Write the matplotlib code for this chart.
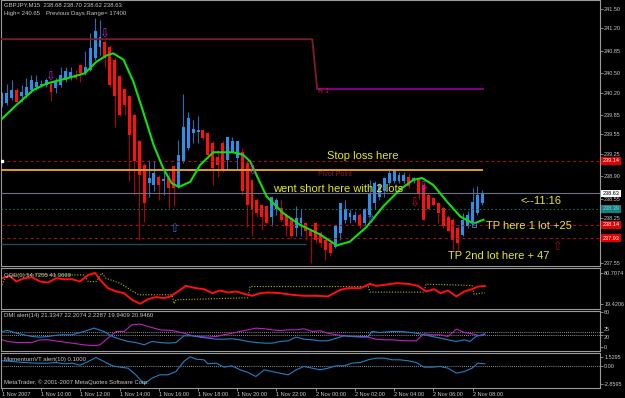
import matplotlib
matplotlib.use("Agg")
import matplotlib.pyplot as plt
import matplotlib.transforms as mtransforms
import numpy as np

W, H = 625, 398
BG = "black"
FG = "#c8c8c8"
FRAME = "#9a9a9a"
YELLOW = "#e6e62a"

# GBPJPY M15, one bar every 15 minutes starting 1 Nov 2007 08:00
opens = [240.01, 240.03, 240.11, 240.24, 240.14, 240.16, 240.24, 240.29, 240.32, 240.32,
         240.34, 240.27, 240.32, 240.40, 240.42, 240.47, 240.63, 240.50, 240.55, 240.73,
         240.91, 240.99, 240.91, 240.71, 240.45, 240.26, 240.14, 239.85, 239.44, 239.07,
         238.79, 238.76, 238.89, 238.83, 238.87, 239.05, 238.74, 239.13, 239.33, 239.57,
         239.59, 239.62, 239.57, 239.41, 239.20, 239.41, 239.15, 239.28, 239.18, 239.28,
         239.10, 238.84, 238.53, 238.45, 238.43, 238.27, 238.38, 238.40, 238.30, 238.25,
         238.09, 238.17, 238.17, 238.04, 238.17, 238.01, 237.91, 237.86, 237.80, 238.01,
         238.22, 238.27, 238.22, 238.30, 238.17, 238.30, 238.48, 238.58, 238.66, 238.79,
         238.82, 238.82, 238.82, 238.89, 238.82, 238.87, 238.76, 238.61, 238.56, 238.48,
         238.40, 238.27, 238.22, 238.09, 237.99, 238.12, 238.17, 238.32, 238.48]
highs = [240.21, 240.34, 240.40, 240.27, 240.32, 240.42, 240.47, 240.48, 240.40, 240.42,
         240.37, 240.42, 240.59, 240.60, 240.60, 240.55, 240.64, 240.84, 241.12, 241.36,
         241.33, 241.02, 240.94, 240.76, 240.47, 240.26, 240.16, 239.88, 239.46, 239.10,
         239.15, 239.13, 238.92, 239.00, 238.97, 239.07, 239.46, 240.17, 239.90, 239.77,
         239.83, 239.64, 239.59, 239.44, 239.31, 239.44, 239.51, 239.51, 239.44, 239.33,
         239.15, 238.86, 238.56, 238.46, 238.45, 238.58, 238.56, 238.53, 238.32, 238.27,
         238.43, 238.38, 238.19, 238.06, 238.19, 238.04, 237.94, 237.88, 238.14, 238.48,
         238.53, 238.38, 238.35, 238.32, 238.40, 238.84, 238.82, 238.79, 238.89, 239.00,
         239.00, 238.97, 238.97, 238.94, 238.89, 238.89, 238.79, 238.63, 238.58, 238.50,
         238.43, 238.30, 238.24, 238.12, 238.32, 238.35, 238.71, 238.74, 238.69]
lows = [239.98, 240.01, 240.09, 240.05, 240.06, 240.11, 240.19, 240.24, 240.29, 240.29,
        240.07, 240.20, 240.29, 240.37, 240.40, 240.40, 240.37, 240.47, 240.53, 240.71,
        240.78, 240.60, 240.29, 239.67, 239.83, 239.85, 238.82, 238.61, 237.91, 238.19,
        238.58, 238.66, 238.53, 238.61, 238.40, 238.43, 238.71, 239.10, 239.31, 239.41,
        239.41, 239.46, 239.18, 238.76, 238.89, 238.97, 239.00, 239.28, 239.00, 238.61,
        238.10, 237.96, 238.27, 238.06, 238.17, 238.12, 238.30, 238.19, 237.96, 237.94,
        237.96, 237.96, 237.91, 237.55, 237.86, 237.80, 237.60, 237.65, 237.78, 237.91,
        238.17, 238.17, 238.19, 238.09, 238.14, 238.27, 238.38, 238.53, 238.58, 238.76,
        238.79, 238.79, 238.79, 238.71, 238.79, 238.53, 238.22, 238.38, 238.43, 238.17,
        238.09, 238.04, 237.75, 237.75, 237.96, 238.09, 238.14, 238.30, 238.45]
closes = [240.19, 240.19, 240.24, 240.06, 240.21, 240.29, 240.40, 240.37, 240.34, 240.40,
          240.21, 240.37, 240.47, 240.53, 240.52, 240.42, 240.50, 240.60, 240.89, 241.15,
          241.07, 240.73, 240.32, 240.14, 239.85, 240.01, 239.54, 239.13, 238.92, 238.48,
          238.87, 238.95, 238.76, 238.85, 238.71, 238.71, 239.23, 239.67, 239.80, 239.64,
          239.62, 239.49, 239.23, 239.02, 239.07, 239.00, 239.51, 239.44, 239.44, 238.66,
          238.45, 238.38, 238.32, 238.27, 238.17, 238.58, 238.53, 238.22, 238.12, 237.96,
          238.25, 238.25, 238.04, 237.96, 237.91, 237.86, 237.75, 237.70, 238.14, 238.48,
          238.38, 238.32, 238.30, 238.12, 238.38, 238.63, 238.79, 238.76, 238.87, 238.94,
          239.00, 238.92, 238.92, 238.74, 238.87, 238.63, 238.22, 238.38, 238.45, 238.32,
          238.12, 238.04, 237.91, 237.86, 238.22, 238.30, 238.50, 238.61, 238.63]

# green smoothed average (bar index, price)
ma_idx = [0, 3, 6.4, 9.1, 13.2, 16.9, 19.3, 21.4, 22.7, 24.8, 26.8, 28.8, 30.9, 32.9,
          34.6, 36.1, 38.4, 40.4, 43.1, 47.2, 49.2, 50.6, 54, 57.4, 60.8, 64.9, 68.3,
          71, 74.4, 77.8, 81.2, 83.9, 85.7, 88, 90.8, 93.5, 96.2, 98.2]
ma_val = [239.79, 240.01, 240.24, 240.34, 240.42, 240.50, 240.68, 240.78, 240.81, 240.71,
          240.37, 239.90, 239.39, 239.02, 238.79, 238.73, 238.81, 239.07, 239.27, 239.27,
          239.23, 239.13, 238.58, 238.32, 238.14, 237.99, 237.82, 237.88, 238.11, 238.43,
          238.69, 238.84, 238.87, 238.76, 238.50, 238.27, 238.16, 238.22]

# levels on the price chart
day2_start = 64            # first bar of 2 Nov
last_bar = 98.2
r1_day1, r1_day2 = 241.03, 240.26
pivot = 239.00
stop_level = 239.14
bid = 238.63
tp_green = 238.39
tp1 = 238.14
tp2 = 237.93
old_support = 237.85
old_support_end = 62

price_ticks = [241.50, 241.20, 240.85, 240.50, 240.20, 239.85, 239.55, 239.25,
               238.90, 238.55, 238.25, 237.55]

# arrow markers (bar index, price, glyph, colour)
arrows = [
    (9.8, 240.44, "\u21e9", "#d020d0"),
    (20.8, 241.11, "\u21e9", "#d020d0"),
    (51.0, 238.97, "\u21e9", "#d020d0"),
    (85.8, 238.73, "\u21e9", "#d020d0"),
    (84.0, 238.48, "\u21e9", "#d01010"),
    (35.0, 238.09, "\u21e7", "#2a78d0"),
    (75.0, 238.22, "\u21e7", "#2a78d0"),
    (113.2, 237.81, "\u21e7", "#901020"),
]

# QQE panel
qqe_idx = [0.0, 1.6, 2.9, 4.5, 6.1, 7.8, 9.4, 11.0, 12.7, 14.3, 15.9, 17.6, 19.0, 20.0,
           21.6, 23.3, 24.9, 26.5, 28.2, 29.8, 31.4, 33.1, 34.3, 35.9, 37.5, 39.6, 41.2,
           42.9, 44.5, 46.1, 47.8, 49.4, 51.0, 52.7, 54.3, 56.7, 59.2, 61.6, 64.1, 66.5,
           69.0, 70.6, 73.1, 75.1, 76.3, 78.0, 80.4, 82.9, 84.9, 86.5, 88.2, 89.4, 91.0,
           92.7, 94.3, 95.9, 97.1, 98.5]
qqe_val = [70.2, 74.8, 63.6, 70.2, 72.1, 63.6, 61.6, 70.2, 68.2, 68.2, 63.6, 76.8, 80.7,
           66.9, 50.4, 43.8, 40.5, 27.3, 19.4, 28.6, 32.6, 30.6, 33.9, 43.8, 55.0, 50.4,
           48.4, 40.5, 45.8, 41.8, 43.8, 39.2, 35.2, 40.5, 41.8, 40.5, 37.2, 35.2, 35.2,
           33.9, 47.1, 50.4, 50.4, 59.0, 55.0, 57.0, 60.3, 59.0, 55.0, 43.8, 48.4, 40.5,
           45.8, 33.9, 43.8, 48.4, 53.7, 54.7]
trail_idx = [0.0, 0.8, 2.9, 16.8, 17.6, 19.2, 20.4, 21.2, 24.1, 27.3, 28.0, 34.7, 35.1,
             35.5, 50.2, 50.6, 74.7, 75.1, 86.1, 86.5, 91.8, 95.9, 96.3, 98.5]
trail_val = [57.0, 73.4, 76.8, 76.8, 63.6, 63.6, 80.7, 70.2, 60.3, 40.5, 37.2, 37.2, 19.5,
             27.3, 31.3, 53.7, 53.7, 42.5, 42.5, 58.3, 57.0, 55.7, 38.5, 41.4]

# DMI panel
dmi_blue_idx = [0.0, 1.2, 2.9, 4.5, 6.1, 7.8, 9.4, 11.8, 14.3, 16.7, 18.8, 20.8, 22.5,
                24.1, 25.7, 27.3, 29.0, 30.6, 32.2, 33.9, 35.5, 37.1, 38.8, 40.4, 42.0,
                43.7, 45.3, 46.9, 48.6, 50.2, 51.8, 53.5, 55.1, 56.7, 58.4, 60.0, 61.6,
                63.3, 64.9, 66.5, 68.2, 69.8, 71.4, 73.1, 74.7, 75.5, 77.1, 79.6, 81.2,
                82.9, 84.5, 86.1, 87.8, 89.4, 91.0, 92.7, 94.3, 95.5, 96.7, 98.5]
dmi_blue = [26.3, 28.0, 23.4, 20.6, 17.7, 16.6, 17.7, 20.6, 20.6, 26.3, 32.0, 26.3, 17.7,
            13.1, 9.1, 7.4, 3.4, 9.1, 7.4, 6.3, 7.4, 18.9, 18.9, 16.6, 14.9, 13.1, 13.1,
            13.7, 12.0, 9.1, 7.4, 6.3, 6.3, 9.1, 10.3, 16.6, 13.1, 12.0, 10.3, 10.3, 14.9,
            18.9, 17.7, 17.7, 17.7, 26.3, 24.6, 26.3, 26.3, 25.1, 23.4, 20.6, 17.7, 14.9,
            12.0, 9.1, 12.0, 9.1, 17.7, 22.2]
dmi_mag_idx = [0.0, 1.2, 2.9, 4.5, 6.1, 7.8, 9.4, 11.8, 14.3, 16.7, 18.8, 20.0, 21.6,
               23.3, 24.9, 26.5, 28.2, 29.8, 32.2, 34.7, 37.1, 38.8, 40.4, 42.0, 43.7,
               45.3, 46.9, 48.6, 50.2, 51.8, 53.5, 55.1, 56.7, 58.4, 60.0, 61.6, 63.3,
               64.9, 66.5, 68.2, 69.8, 71.4, 73.1, 74.7, 76.3, 78.0, 79.6, 81.2, 82.9,
               84.5, 86.1, 87.8, 89.4, 91.0, 92.7, 94.3, 95.9, 97.6, 98.5]
dmi_mag = [12.0, 9.1, 7.4, 7.4, 7.4, 12.0, 12.0, 9.1, 6.3, 3.4, 2.0, 3.4, 14.9, 26.3,
           26.3, 37.7, 38.9, 34.9, 29.1, 28.0, 23.4, 18.9, 17.7, 16.6, 17.7, 20.6, 23.4,
           26.3, 29.1, 32.0, 30.9, 29.1, 28.0, 29.1, 29.1, 30.9, 26.3, 27.4, 23.4, 20.6,
           18.9, 17.7, 16.6, 16.6, 13.1, 12.0, 12.0, 10.9, 10.3, 10.3, 22.3, 20.6, 20.6,
           17.7, 30.3, 24.6, 22.3, 18.9, 21.3]
dmi_levels = [25, 20]

# Momentum panel
mom_idx = [0.0, 2.0, 4.5, 6.9, 9.4, 11.0, 12.7, 14.3, 15.9, 17.6, 19.2, 20.8, 22.5, 24.1,
           25.7, 27.3, 29.0, 30.6, 32.2, 33.9, 35.5, 37.1, 38.4, 39.6, 41.2, 42.0, 43.7,
           45.3, 46.9, 48.6, 50.2, 51.8, 53.5, 55.1, 56.7, 58.4, 60.0, 61.6, 63.3, 64.9,
           66.5, 68.2, 69.8, 71.4, 73.1, 74.7, 76.3, 78.0, 79.6, 81.2, 82.9, 84.5, 86.1,
           87.8, 89.4, 91.0, 92.7, 94.3, 95.9, 97.1, 98.5]
mom_val = [0.88, 0.77, 0.61, 0.50, 0.50, 0.61, 0.39, 0.50, 0.17, 0.77, 1.42, 0.77, 0.06,
           -0.15, -0.32, -1.40, -2.86, -1.94, -1.40, -1.40, -0.86, 0.77, 1.53, 1.15, 1.04,
           0.39, 0.50, -0.15, 0.06, -0.59, -1.02, -1.67, -0.59, -0.86, -1.13, -1.40, -0.59,
           -0.04, -0.32, -0.59, -0.32, 0.06, 0.06, 0.50, 0.61, 1.04, 1.31, 1.31, 1.04, 1.04,
           0.88, 0.61, -0.15, -0.15, -0.04, -0.32, -1.13, -0.86, -0.32, 0.50, 0.39]

time_ticks = list(range(0, 97, 8))
time_labels = ["1 Nov 2007", "1 Nov 10:00", "1 Nov 12:00", "1 Nov 14:00", "1 Nov 16:00",
               "1 Nov 18:00", "1 Nov 20:00", "1 Nov 22:00", "2 Nov 00:00", "2 Nov 02:00",
               "2 Nov 04:00", "2 Nov 06:00", "2 Nov 08:00"]

plt.rcParams["font.family"] = ["Liberation Sans", "DejaVu Sans"]

fig = plt.figure(figsize=(W / 100, H / 100), dpi=100, facecolor=BG)


def panel(top, bottom):
    """Sub window placed by its pixel rows."""
    ax = fig.add_axes([1 / W, 1 - bottom / H, 599 / W, (bottom - top) / H])
    ax.set_facecolor(BG)
    for s in ax.spines.values():
        s.set_color(FRAME)
        s.set_linewidth(0.8)
    ax.set_xlim(-0.2, 122.0)
    ax.yaxis.tick_right()
    ax.tick_params(axis="y", colors=FRAME, labelcolor=FG, labelsize=4,
                   length=2, width=0.6, pad=1)
    ax.tick_params(axis="x", bottom=False, labelbottom=False)
    return ax


def fig_text(x, y, s, **kw):
    fig.text(x / W, 1 - y / H, s, va="center", ha="left", **kw)


# ---- price window
ax = panel(0, 266)
ax.set_ylim(237.50, 241.64)
o, h, l, c = map(np.array, (opens, highs, lows, closes))
idx = np.arange(len(o))
bull = c >= o
ax.vlines(idx, l, h, colors=np.where(bull, "#2a6cb0", "#b00000"), lw=0.8, zorder=2)
ax.bar(idx, np.maximum(np.abs(c - o), 0.012), bottom=np.minimum(o, c), width=0.6,
       color=np.where(bull, "#2e8fe8", "#ff1010"), lw=0, zorder=2)

ax.axhline(stop_level, color="#b01010", lw=0.7, ls=(0, (3, 3)), zorder=3)
ax.axhline(tp1, color="#b01010", lw=0.7, ls=(0, (3, 3)), zorder=3)
ax.axhline(tp2, color="#b01010", lw=0.7, ls=(0, (3, 3)), zorder=3)
ax.axhline(tp_green, color="#108060", lw=0.7, ls=(0, (1.5, 2.5)), zorder=3)
ax.axhline(bid, color="#707088", lw=0.8, zorder=3)
ax.hlines(old_support, -0.2, old_support_end, color="#1f4a5a", lw=1.0, zorder=3)
ax.hlines(pivot, -0.2, last_bar, color="#e0a020", lw=1.4, zorder=3)
ax.plot([-0.2, day2_start - 0.7, day2_start + 0.3], [r1_day1, r1_day1, r1_day2],
        color="#7a1a2a", lw=1.4, zorder=3)
ax.plot([day2_start + 0.3, last_bar], [r1_day2, r1_day2], color="#800080", lw=1.4, zorder=3)
ax.plot(0, stop_level, "s", ms=2, color="white", zorder=4)

ax.plot(ma_idx, ma_val, color="#10e010", lw=1.5, zorder=4)

for ai, ap, glyph, col in arrows:
    ax.text(ai, ap, glyph, color=col, fontsize=8.5, ha="center", va="center",
            family="DejaVu Sans", zorder=5)
ax.plot(96.3, tp1, "s", ms=3, mfc="none", mec="#2a78d0", mew=0.7, zorder=5)

ax.set_yticks(price_ticks)
ax.set_yticklabels([f"{v:.2f}" for v in price_ticks])

# value boxes on the price scale
box_tr = mtransforms.blended_transform_factory(ax.transAxes, ax.transData)
for val, fc, tc in [(stop_level, "#e00000", "white"), (bid, "white", "black"),
                    (tp_green, "#108080", "#9ad0d0"), (tp1, "#e00000", "white"),
                    (tp2, "#e00000", "white")]:
    ax.text(1.004, val, f"{val:.2f}", transform=box_tr, fontsize=4, color=tc,
            ha="left", va="center", zorder=6,
            bbox=dict(boxstyle="square,pad=0.25", fc=fc, ec="none"))

# chart labels and notes
ax.text(64.5, 240.21, "R 1", color="#c02020", fontsize=5, ha="left", va="center")
ax.text(64.5, 238.92, "Pivot Point", color="#8b1a4a", fontsize=5, ha="left", va="center")
notes = [
    (66.3, 239.21, "Stop loss here"),
    (55.3, 238.70, "went short here with 2 lots"),
    (105.7, 238.51, "<--11:16"),
    (98.8, 238.13, "TP here 1 lot +25"),
    (91.0, 237.66, "TP 2nd lot here + 47"),
]
for ni, npx, s in notes:
    ax.text(ni, npx, s, color=YELLOW, fontsize=8, ha="left", va="center", zorder=6)

fig_text(4, 5, "GBPJPY,M15  238.68 238.70 238.62 238.63", color=FG, fontsize=4.3)
fig_text(4, 13, "High= 240.65", color=FG, fontsize=4.3)
fig_text(46, 13, "Previous Days Range= 17400", color=FG, fontsize=4.3)

# ---- QQE window
aq = panel(268, 309)
aq.set_ylim(8.9, 90.6)
aq.plot(trail_idx, trail_val, color="#b8b800", lw=0.8, ls=(0, (1, 1.5)))
aq.plot(qqe_idx, qqe_val, color="#ff1010", lw=1.4)
aq.set_yticks([80.7074, 19.4206])
aq.set_yticklabels(["80.7074", "19.4206"])
fig_text(4, 276, "QQE(1) 54.7255 41.3669", color=FG, fontsize=4.3)

# ---- DMI window
ad = panel(310.5, 350.5)
ad.set_ylim(-6.3, 62.2)
for lv in dmi_levels:
    ad.axhline(lv, color="#c0c0c0", lw=0.6, ls=(0, (1, 1.5)))
ad.plot(dmi_mag_idx, dmi_mag, color="#c020c0", lw=0.8)
ad.plot(dmi_blue_idx, dmi_blue, color="#2080c8", lw=0.8)
ad.set_yticks([60, 25, 20, 0])
ad.set_yticklabels(["60", "25", "20", "0"])
dmi_tl = ad.get_yticklabels()
dmi_tl[1].set_va("bottom")
dmi_tl[2].set_va("top")
fig_text(4, 316, "DMI alert(14) 21.3347 22.2074 2.2287 19.9409 20.9460", color=FG, fontsize=4.3)

# ---- Momentum window
am = panel(352.5, 387.5)
am.set_ylim(-3.46, 2.23)
am.axhline(0, color="#c0c0c0", lw=0.6, ls=(0, (1, 1.5)))
am.plot(mom_idx, mom_val, color="#2080c8", lw=0.8)
am.set_yticks([1.5295, 0, -2.8595])
am.set_yticklabels(["1.5295", "0.00", "-2.8595"])
am.set_xticks(time_ticks)
am.set_xticklabels(time_labels, ha="left")
am.tick_params(axis="x", bottom=True, labelbottom=True, colors=FRAME, labelcolor=FG,
               labelsize=4, length=2, width=0.6, pad=1.5)
fig_text(4, 360, "MomentumVT alert(10) 0.1000", color=FG, fontsize=4.3)
fig_text(4, 382, "MetaTrader, \u00a9 2001-2007 MetaQuotes Software Corp.", color=FG, fontsize=4.3)

fig.savefig("out.png", dpi=100, facecolor=BG)
